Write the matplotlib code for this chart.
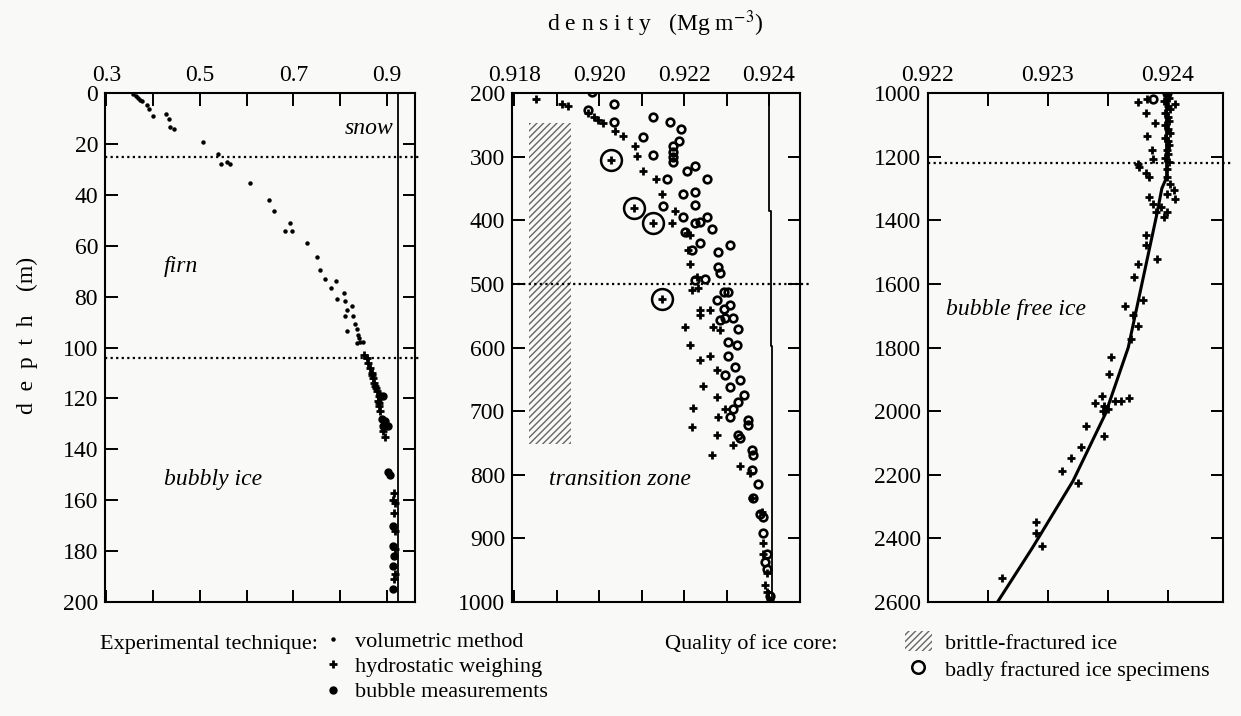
import matplotlib
matplotlib.use("Agg")
import matplotlib.pyplot as plt
from matplotlib.lines import Line2D
from matplotlib.patches import Patch, Rectangle

plt.rcParams['font.family'] = ['Liberation Serif', 'DejaVu Serif']
plt.rcParams['mathtext.fontset'] = 'stix'
plt.rcParams['hatch.linewidth'] = 1.0

# ---- panel 1 : 0-200 m ----
vol_rho = [0.357, 0.363, 0.368, 0.371, 0.377, 0.386, 0.391, 0.399, 0.427, 0.433,
           0.436, 0.444, 0.507, 0.539, 0.546, 0.557, 0.564, 0.608, 0.648, 0.658,
           0.682, 0.693, 0.698, 0.728, 0.751, 0.757, 0.768, 0.791, 0.780, 0.793,
           0.809, 0.810, 0.814, 0.826, 0.810, 0.828, 0.815, 0.832, 0.835, 0.839,
           0.841, 0.842, 0.835, 0.848]
vol_z = [0.3, 1.1, 2.0, 2.6, 3.3, 4.6, 6.3, 9.2, 8.2, 10.3,
         13.2, 14.3, 19.1, 23.8, 28.0, 27.1, 28.0, 35.2, 42.0, 46.2,
         54.1, 51.2, 54.1, 59.1, 64.4, 69.7, 72.9, 73.9, 76.8, 80.8,
         78.5, 81.8, 85.1, 83.8, 87.8, 87.8, 93.5, 90.8, 92.7, 95.0,
         96.1, 97.7, 98.3, 97.9]
hyd1_rho = [0.851, 0.857, 0.860, 0.864, 0.867, 0.867, 0.871, 0.872, 0.875, 0.877,
            0.878, 0.882, 0.880, 0.882, 0.884, 0.885, 0.892, 0.896, 0.915, 0.914,
            0.917, 0.915, 0.917, 0.917, 0.917, 0.915]
hyd1_z = [103, 104, 106, 108, 110, 111, 112, 114, 115, 116,
          117, 119, 121, 122, 123, 125, 133, 135, 157, 160,
          161, 165, 172, 179, 189, 191]
bub1_rho = [0.885, 0.892, 0.889, 0.896, 0.892, 0.903, 0.903, 0.907, 0.914, 0.914,
            0.915, 0.914, 0.914]
bub1_z = [119, 119, 128, 129, 131, 131, 149, 150, 170, 178, 182, 186, 195]

# ---- panel 2 : 200-1000 m ----
hyd2_rho = [0.91852, 0.91912, 0.91928, 0.91975, 0.91987, 0.91998, 0.92010, 0.92038, 0.92057, 0.92085,
            0.92089, 0.92104, 0.92133, 0.92147, 0.92179, 0.92171, 0.92206, 0.92214, 0.92210, 0.92214,
            0.92230, 0.92218, 0.92234, 0.92238, 0.92261, 0.92238, 0.92269, 0.92285, 0.92202, 0.92214,
            0.92238, 0.92261, 0.92277, 0.92245, 0.92277, 0.92222, 0.92296, 0.92218, 0.92281, 0.92277,
            0.92316, 0.92265, 0.92332, 0.92355, 0.92359, 0.92383, 0.92387, 0.92387, 0.92395, 0.92391,
            0.92395, 0.92402]
hyd2_z = [209, 217, 221, 231, 238, 242, 247, 260, 268, 284,
          299, 322, 335, 358, 386, 404, 420, 423, 447, 468,
          489, 510, 507, 541, 541, 549, 567, 572, 568, 596,
          619, 614, 635, 661, 678, 695, 696, 725, 710, 738,
          753, 769, 786, 798, 837, 858, 908, 924, 955, 974,
          984, 997]
bub2_rho = [0.91983, 0.91975, 0.92034, 0.92034, 0.92128, 0.92167, 0.92192, 0.92188, 0.92104, 0.92128,
            0.92175, 0.92175, 0.92173, 0.92173, 0.92206, 0.92226, 0.92253, 0.92159, 0.92198, 0.92226,
            0.92151, 0.92198, 0.92226, 0.92226, 0.92253, 0.92238, 0.92265, 0.92202, 0.92238, 0.92218,
            0.92308, 0.92281, 0.92281, 0.92285, 0.92249, 0.92226, 0.92293, 0.92304, 0.92277, 0.92308,
            0.92293, 0.92296, 0.92316, 0.92328, 0.92285, 0.92304, 0.92324, 0.92304, 0.92320, 0.92296,
            0.92332, 0.92308, 0.92340, 0.92328, 0.92316, 0.92308, 0.92351, 0.92351, 0.92328, 0.92332,
            0.92359, 0.92363, 0.92359, 0.92375, 0.92363, 0.92379, 0.92387, 0.92387, 0.92395, 0.92391,
            0.92395, 0.92402]
bub2_z = [199, 226, 217, 246, 238, 245, 257, 276, 269, 297,
          283, 292, 301, 308, 322, 315, 335, 335, 359, 355,
          378, 395, 376, 404, 395, 402, 414, 418, 435, 447,
          439, 450, 473, 483, 493, 494, 512, 512, 525, 533,
          540, 553, 554, 571, 556, 591, 596, 614, 630, 643,
          651, 662, 675, 685, 696, 709, 714, 722, 738, 743,
          761, 769, 793, 814, 837, 861, 866, 892, 924, 937,
          948, 990]
frac_rho = [0.92027, 0.92082, 0.92128, 0.92147]
frac_z = [306, 380, 404, 524]
ice_rho = [0.92400, 0.92400, 0.92404, 0.92404, 0.92408, 0.92408]
ice_z = [200, 385, 385, 598, 598, 1000]

# ---- panel 3 : 1000-2600 m ----
hyd3_rho = [0.92375, 0.92383, 0.92406, 0.92382, 0.92389, 0.92383, 0.92387, 0.92388, 0.92375, 0.92376,
            0.92382, 0.92384, 0.92399, 0.92402, 0.92405, 0.92406, 0.92399, 0.92384, 0.92388, 0.92394,
            0.92390, 0.92399, 0.92397, 0.92382, 0.92382, 0.92391, 0.92375, 0.92372, 0.92379, 0.92364,
            0.92371, 0.92375, 0.92369, 0.92353, 0.92351, 0.92345, 0.92339, 0.92356, 0.92368, 0.92361,
            0.92347, 0.92346, 0.92350, 0.92332, 0.92347, 0.92328, 0.92319, 0.92312, 0.92325, 0.92290,
            0.92290, 0.92295, 0.92262,
            0.92399, 0.92401, 0.92397, 0.92400, 0.92402, 0.92398, 0.92400, 0.92401, 0.92398, 0.92400,
            0.92402, 0.92398, 0.92400, 0.92401, 0.92399, 0.92400, 0.92398, 0.92401, 0.92399]
hyd3_z = [1027, 1020, 1035, 1064, 1093, 1135, 1180, 1206, 1222, 1234,
          1253, 1264, 1264, 1285, 1306, 1332, 1316, 1327, 1348, 1358,
          1374, 1374, 1390, 1447, 1479, 1521, 1537, 1579, 1652, 1668,
          1699, 1731, 1773, 1831, 1883, 1951, 1975, 1967, 1960, 1969,
          1983, 1999, 1993, 2046, 2077, 2114, 2148, 2188, 2227, 2347,
          2382, 2424, 2524,
          1005, 1015, 1025, 1040, 1050, 1062, 1075, 1088, 1100, 1112,
          1125, 1140, 1152, 1165, 1178, 1192, 1205, 1218, 1240]
bub3_rho = [0.92399, 0.92388]
bub3_z = [1001, 1020]
fit_rho = [0.92399, 0.92399, 0.92395, 0.92391, 0.92379, 0.92367, 0.92348, 0.92321, 0.92287, 0.92258]
fit_z = [1000, 1265, 1300, 1378, 1589, 1800, 2008, 2219, 2430, 2600]

W, H = 1241, 716
fig = plt.figure(figsize=(W / 100, H / 100), dpi=100, facecolor='#f9f9f7')

def px_axes(x0, x1, y0, y1):
    return fig.add_axes([x0 / W, 1 - y1 / H, (x1 - x0) / W, (y1 - y0) / H], facecolor='#f9f9f7')

ax1 = px_axes(105, 415, 93, 602)
ax2 = px_axes(512, 800, 93, 602)
ax3 = px_axes(928, 1223, 93, 602)

hyd_kw = dict(ls='none', marker='+', ms=6, mew=2.0, color='black')
bub_kw = dict(ls='none', marker='o', ms=5.5, mew=1.9, mfc='none', mec='black')

# panel 1
ax1.plot(vol_rho, vol_z, ls='none', marker='o', ms=2.2, color='black')
ax1.plot(hyd1_rho, hyd1_z, **hyd_kw)
ax1.plot(bub1_rho, bub1_z, ls='none', marker='o', ms=5, color='black')
ax1.axvline(0.924, color='black', lw=1.3)
for z in [25, 104]:
    ax1.axhline(z, xmax=1.02, color='black', ls=(0, (1, 1.5)), lw=1.6, clip_on=False)
ax1.set_xlim(0.297, 0.96)
ax1.set_ylim(200, 0)
ax1.set_xticks([0.3, 0.5, 0.7, 0.9])
ax1.set_xticklabels(['0.3', '0.5', '0.7', '0.9'])
ax1.set_xticks([0.4, 0.6, 0.8], minor=True)
ax1.set_yticks(range(0, 201, 20))
ax1.text(0.93, 0.93, 'snow', transform=ax1.transAxes, style='italic', fontsize=17, ha='right', va='center')
ax1.text(0.19, 0.66, 'firn', transform=ax1.transAxes, style='italic', fontsize=17, ha='left', va='center')
ax1.text(0.19, 0.24, 'bubbly ice', transform=ax1.transAxes, style='italic', fontsize=17, ha='left', va='center')

# panel 2
ax2.add_patch(Rectangle((0.91836, 247), 0.00097, 504, facecolor='none',
                        edgecolor='#666666', lw=0, hatch='/////'))
ax2.plot(hyd2_rho, hyd2_z, **hyd_kw)
ax2.plot(bub2_rho, bub2_z, **bub_kw)
ax2.plot(frac_rho, frac_z, ls='none', marker='+', ms=6, mew=2.0, color='black')
ax2.plot(frac_rho, frac_z, ls='none', marker='o', ms=15, mew=1.8, mfc='none', mec='black')
ax2.plot(ice_rho, ice_z, color='black', lw=1.3)
ax2.axhline(500, xmax=1.03, color='black', ls=(0, (1, 1.5)), lw=1.6, clip_on=False)
ax2.set_xlim(0.91795, 0.92473)
ax2.set_ylim(1000, 200)
ax2.set_xticks([0.918, 0.920, 0.922, 0.924])
ax2.set_xticklabels(['0.918', '0.920', '0.922', '0.924'])
ax2.set_xticks([0.919, 0.921, 0.923], minor=True)
ax2.set_yticks(range(200, 1001, 100))
ax2.text(0.13, 0.24, 'transition zone', transform=ax2.transAxes, style='italic', fontsize=17, ha='left', va='center')

# panel 3
ax3.plot(fit_rho, fit_z, color='black', lw=2.2)
ax3.plot(hyd3_rho, hyd3_z, **hyd_kw)
ax3.plot(bub3_rho, bub3_z, **bub_kw)
ax3.axhline(1220, xmax=1.03, color='black', ls=(0, (1, 1.5)), lw=1.6, clip_on=False)
ax3.set_xlim(0.92203, 0.92446)
ax3.set_ylim(2600, 1000)
ax3.set_xticks([0.922, 0.923, 0.924])
ax3.set_xticklabels(['0.922', '0.923', '0.924'])
ax3.set_xticks([0.9225, 0.9235], minor=True)
ax3.set_yticks(range(1000, 2601, 200))
ax3.text(0.06, 0.575, 'bubble free ice', transform=ax3.transAxes, style='italic', fontsize=17, ha='left', va='center')

for ax in (ax1, ax2, ax3):
    ax.tick_params(which='both', direction='in', top=True, right=True, labeltop=True,
                   labelbottom=False, length=9, width=1.4, labelsize=17, pad=5)
    for s in ax.spines.values():
        s.set_linewidth(1.5)

fig.text(655 / W, 1 - 24 / H, 'd e n s i t y   (Mg m$^{-3}$)', ha='center', va='center', fontsize=17)
fig.text(27 / W, 1 - 335 / H, 'd  e  p  t  h    (m)', ha='center', va='center', fontsize=17, rotation=90)

# legends
row1 = 644
fig.text(100 / W, 1 - row1 / H, 'Experimental technique:', ha='left', va='center', fontsize=16)
fig.text(665 / W, 1 - row1 / H, 'Quality of ice core:', ha='left', va='center', fontsize=16)
tech_handles = [Line2D([], [], ls='none', marker='o', ms=2.2, color='black'),
                Line2D([], [], **hyd_kw),
                Line2D([], [], ls='none', marker='o', ms=5, color='black')]
tech_labels = ['volumetric method', 'hydrostatic weighing', 'bubble measurements']
fig.legend(tech_handles, tech_labels, loc='upper left', bbox_to_anchor=(322 / W, 1 - (row1 - 13) / H),
           frameon=False, fontsize=16, handlelength=1.0, handletextpad=0.5,
           labelspacing=0.22, borderpad=0, borderaxespad=0)
qual_handles = [Patch(facecolor='none', edgecolor='#666666', lw=0, hatch='/////'),
                Line2D([], [], ls='none', marker='o', ms=9, mew=1.8, mfc='none', mec='black')]
qual_labels = ['brittle-fractured ice', 'badly fractured ice specimens']
fig.legend(qual_handles, qual_labels, loc='upper left', bbox_to_anchor=(905 / W, 1 - (row1 - 13) / H),
           frameon=False, fontsize=16, handlelength=1.2, handleheight=1.0, handletextpad=0.6,
           labelspacing=0.22, borderpad=0, borderaxespad=0)

fig.savefig('out.png', dpi=100, facecolor=fig.get_facecolor())
